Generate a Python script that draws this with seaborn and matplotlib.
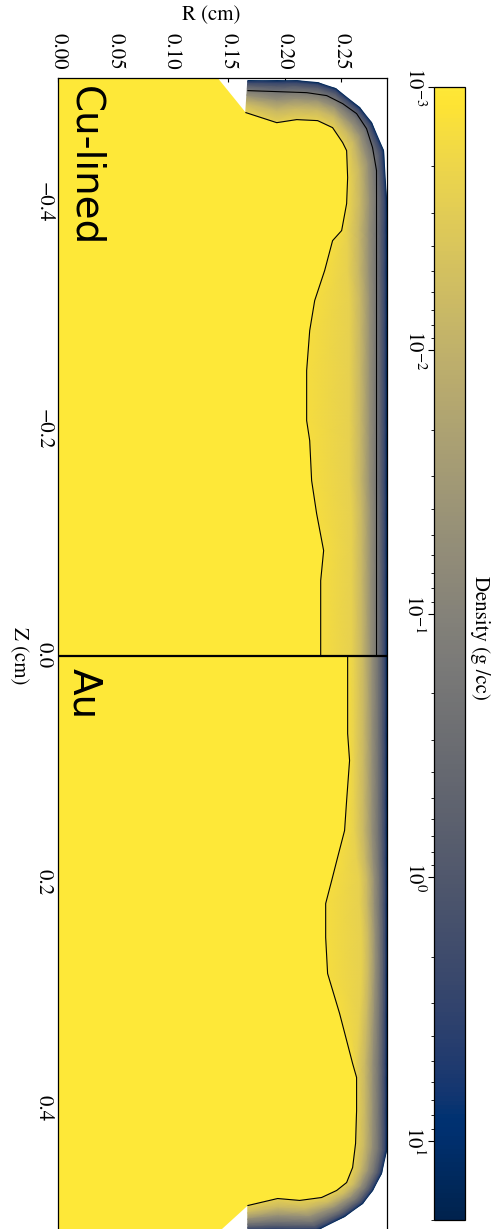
import numpy as np
import matplotlib
matplotlib.use("Agg")
import matplotlib.pyplot as plt
from matplotlib.colors import LogNorm
import seaborn as sns

# ==========================
# Data (R and Z in cm, density in g/cc)
# ==========================

# Cu-lined half (Z < 0): rays through the wall, from the gas contour to the wall edge
cu_z_in = [-0.4795, -0.4706, -0.4733, -0.4724, -0.4662, -0.4530, -0.4459, -0.4221,
           -0.3991, -0.3753, -0.3664, -0.3400, -0.3135, -0.2870, -0.2517, -0.2075,
           -0.1898, -0.1545, -0.1254, -0.0927, -0.0662, 0.0]
cu_r_in = [0.1655, 0.1929, 0.2105, 0.2290, 0.2422, 0.2511, 0.2546, 0.2555,
           0.2546, 0.2502, 0.2422, 0.2352, 0.2264, 0.2220, 0.2193, 0.2193,
           0.2220, 0.2237, 0.2281, 0.2343, 0.2317, 0.2317]
cu_r_mid = [0.1655, 0.1929, 0.2105, 0.2290, 0.2422, 0.2511, 0.2546, 0.2572,
            0.2572, 0.2555, 0.2555, 0.2555, 0.2572, 0.2572, 0.2572, 0.2572,
            0.2572, 0.2572, 0.2590, 0.2590, 0.2590, 0.2590]
cu_z_out = [-0.5077, -0.5077, -0.5077, -0.5060, -0.5007, -0.4839, -0.4706, -0.4459,
            -0.4018, -0.3753, -0.3664, -0.3400, -0.3135, -0.2870, -0.2517, -0.2075,
            -0.1898, -0.1545, -0.1254, -0.0927, -0.0662, 0.0]
cu_r_out = [0.1673, 0.1929, 0.2105, 0.2290, 0.2449, 0.2661, 0.2766, 0.2872,
            0.2899, 0.2899, 0.2899, 0.2899, 0.2899, 0.2899, 0.2899, 0.2899,
            0.2899, 0.2899, 0.2899, 0.2899, 0.2899, 0.2899]

# liner / wall interface contour in the Cu-lined half
cu_liner_r = [0.1673, 0.2193, 0.2370, 0.2511, 0.2634, 0.2722, 0.2775, 0.2810, 0.2810]
cu_liner_z = [-0.4989, -0.4971, -0.4945, -0.4874, -0.4786, -0.4653, -0.4486, -0.4283, 0.0]

# Au half (Z > 0)
au_z_in = [0.0, 0.0689, 0.0927, 0.1280, 0.1545, 0.1784, 0.1987, 0.2190,
           0.2490, 0.2808, 0.3161, 0.3603, 0.3726, 0.4018, 0.4309, 0.4521,
           0.4654, 0.4724, 0.4786, 0.4812, 0.4795, 0.4857]
au_r_in = [0.2555, 0.2555, 0.2572, 0.2546, 0.2528, 0.2466, 0.2414, 0.2361,
           0.2361, 0.2378, 0.2484, 0.2599, 0.2634, 0.2634, 0.2625, 0.2599,
           0.2546, 0.2458, 0.2325, 0.2131, 0.1937, 0.1673]
au_r_mid = [0.2616, 0.2616, 0.2616, 0.2616, 0.2616, 0.2634, 0.2661, 0.2661,
            0.2678, 0.2678, 0.2661, 0.2634, 0.2634, 0.2634, 0.2625, 0.2599,
            0.2546, 0.2458, 0.2325, 0.2131, 0.1937, 0.1673]
au_z_out = [0.0, 0.0689, 0.0927, 0.1280, 0.1545, 0.1784, 0.1987, 0.2190,
            0.2490, 0.2808, 0.3161, 0.3603, 0.3726, 0.4018, 0.4371, 0.4574,
            0.4724, 0.4839, 0.4954, 0.5077, 0.5077, 0.5077]
au_r_out = [0.2899, 0.2899, 0.2899, 0.2899, 0.2899, 0.2899, 0.2899, 0.2899,
            0.2899, 0.2899, 0.2899, 0.2899, 0.2899, 0.2899, 0.2899, 0.2854,
            0.2775, 0.2687, 0.2528, 0.2281, 0.1937, 0.1673]

# laser entrance hole corners at the end caps
cu_leh = (0.1400, -0.511)
au_leh = (0.1395, 0.511)

gas_density = 1.0e-3
edge_density = 1.5e-3
wall_frac = [0.0, 0.3, 0.55, 0.75, 0.88, 0.96, 1.0]
wall_density = [2.5e-3, 8e-3, 0.05, 0.25, 1.0, 3.0, 15.0]

r_ticks = [0.00, 0.05, 0.10, 0.15, 0.20, 0.25]
z_ticks = [-0.4, -0.2, 0.0, 0.2, 0.4]
density_min, density_max = 1e-3, 20.0


def wall_mesh(z_in, r_in, r_mid, z_out, r_out):
    z_in, r_in, r_mid = np.array(z_in), np.array(r_in), np.array(r_mid)
    z_out, r_out = np.array(z_out), np.array(r_out)
    f = np.array(wall_frac)
    R = np.column_stack([r_in, r_mid[:, None] + np.outer(r_out - r_mid, f)])
    Z = np.column_stack([z_in, z_in[:, None] + np.outer(z_out - z_in, f)])
    C = np.tile([edge_density] + wall_density, (len(z_in), 1))
    return R, Z, C


# ==========================
# Plot
# ==========================
sns.set_style("ticks")
plt.rcParams["font.family"] = "STIXGeneral"
plt.rcParams["mathtext.fontset"] = "stix"
for key in ["text.color", "axes.labelcolor", "xtick.color", "ytick.color", "axes.edgecolor"]:
    plt.rcParams[key] = "black"

cmap = sns.color_palette("cividis_r", as_cmap=True)
norm = LogNorm(vmin=density_min, vmax=density_max)

fig = plt.figure(figsize=(4.93, 12.29), dpi=100)
ax = fig.add_axes([0.1183, -0.0033, 0.6661, 0.9398])
cax = fig.add_axes([0.8803, 0.0073, 0.0629, 0.9219])

gas_color = cmap(norm(gas_density))
ax.fill([0.0, cu_leh[0]] + cu_r_in + [0.0], [cu_leh[1], cu_leh[1]] + cu_z_in + [0.0],
        color=gas_color, lw=0)
ax.fill([0.0] + au_r_in + [au_leh[0], 0.0], [0.0] + au_z_in + [au_leh[1], au_leh[1]],
        color=gas_color, lw=0)

R, Z, C = wall_mesh(cu_z_in, cu_r_in, cu_r_mid, cu_z_out, cu_r_out)
mesh = ax.pcolormesh(R, Z, C, shading="gouraud", cmap=cmap, norm=norm)
R, Z, C = wall_mesh(au_z_in, au_r_in, au_r_mid, au_z_out, au_r_out)
ax.pcolormesh(R, Z, C, shading="gouraud", cmap=cmap, norm=norm)

# contours
for xs, ys in [(cu_r_in, cu_z_in), (cu_liner_r, cu_liner_z), (au_r_in, au_z_in)]:
    sns.lineplot(x=xs, y=ys, sort=False, estimator=None, color="black", lw=0.8, ax=ax)

ax.axhline(0.0, color="black", lw=1.6)

ax.text(0.0235, -0.503, "Cu-lined", family="DejaVu Sans", fontsize=28, color="black",
        rotation=-90, ha="center", va="top")
ax.text(0.0231, 0.0106, "Au", family="DejaVu Sans", fontsize=28, color="black",
        rotation=-90, ha="center", va="top")

ax.set_xlim(0.0, 0.29)
ax.set_ylim(0.51, -0.51)
ax.set_xticks(r_ticks)
ax.set_yticks(z_ticks)
ax.xaxis.tick_top()
ax.tick_params(axis="both", which="major", direction="in", length=3.2, width=0.8,
               top=True, bottom=True, left=True, right=True, labelsize=15)
ax.tick_params(axis="x", labelrotation=-90, labeltop=True, labelbottom=False, pad=5.8)
ax.tick_params(axis="y", labelrotation=-90, pad=3.6)
for lbl in ax.get_yticklabels():
    lbl.set_va("center")

ax.set_xlabel("R (cm)", fontsize=15)
ax.xaxis.set_label_position("top")
ax.xaxis.label.set_va("center")
ax.xaxis.set_label_coords(0.467, 1.054)
ax.set_ylabel("Z (cm)", fontsize=15, rotation=-90, va="center", ha="center")
ax.yaxis.set_label_coords(-0.12, 0.5)

for s in ax.spines.values():
    s.set_color("black")
    s.set_linewidth(0.9)

cb = fig.colorbar(mesh, cax=cax)
cax.invert_yaxis()
cax.yaxis.set_ticks_position("left")
cax.yaxis.set_label_position("left")
cax.tick_params(axis="y", which="major", direction="out", length=4.3, width=0.8,
                labelsize=15, labelrotation=-90, pad=2.2)
cax.tick_params(axis="y", which="minor", direction="out", length=2.2, width=0.6)
for lbl in cax.get_yticklabels():
    lbl.set_va("center")
cb.outline.set_linewidth(0.9)
cb.outline.set_edgecolor("black")
cax.set_ylabel("Density (g /cc)", fontsize=15, rotation=-90, va="center", ha="center")
cax.yaxis.set_label_coords(1.48, 0.514)

fig.savefig("out.png", dpi=100)
